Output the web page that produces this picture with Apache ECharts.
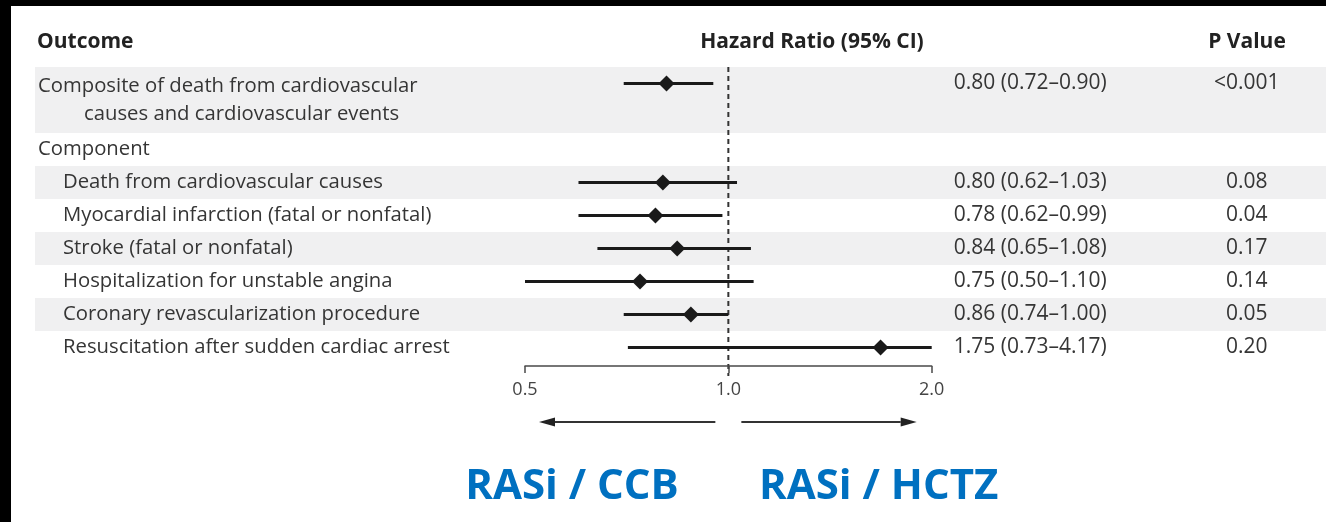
<!DOCTYPE html>
<html>
<head>
<meta charset="utf-8">
<script src="https://cdn.jsdelivr.net/npm/echarts@6/dist/echarts.min.js"></script>
<style>
html,body{margin:0;padding:0;background:#fff;}
#chart{width:1326px;height:522px;}
</style>
</head>
<body>
<div id="chart"></div>
<script>
// ---- data ----
const compositeLabel = ["Composite of death from cardiovascular", "causes and cardiovascular events"];
const groupLabel = "Component";
const componentLabels = [
  "Death from cardiovascular causes",
  "Myocardial infarction (fatal or nonfatal)",
  "Stroke (fatal or nonfatal)",
  "Hospitalization for unstable angina",
  "Coronary revascularization procedure",
  "Resuscitation after sudden cardiac arrest"
];
const hrCiText = ["0.80 (0.72\u20130.90)", "0.80 (0.62\u20131.03)", "0.78 (0.62\u20130.99)", "0.84 (0.65\u20131.08)", "0.75 (0.50\u20131.10)", "0.86 (0.74\u20131.00)", "1.75 (0.73\u20134.17)"];
const pValueText = ["<0.001", "0.08", "0.04", "0.17", "0.14", "0.05", "0.20"];
// plotted marks (hazard ratio, lower and upper CI as drawn)
const hr     = [0.81, 0.80, 0.78, 0.84, 0.74, 0.88, 1.68];
const ciLow  = [0.70, 0.60, 0.60, 0.64, 0.50, 0.70, 0.71];
const ciHigh = [0.95, 1.03, 0.98, 1.08, 1.09, 1.00, 4.17];
const axisTicks = [0.5, 1.0, 2.0];
const favorLabels = ["RASi / CCB", "RASi / HCTZ"];
const headers = ["Outcome", "Hazard Ratio (95% CI)", "P Value"];

// ---- build rows ----
const categories = [...compositeLabel, groupLabel, ...componentLabels];
const rowOfOutcome = [0, ...componentLabels.map((_, i) => i + 3)];
const xMin = axisTicks[0], xMax = axisTicks[axisTicks.length - 1];
const FONT = "'Open Sans', 'DejaVu Sans', sans-serif";
const TXT = '#353535';
const LFS = 20.3;
const RFS = 21;

const forestData = hr.map((v, j) => [v, rowOfOutcome[j], ciLow[j], ciHigh[j]]);
// shaded rows: composite (two lines) and every other component
const bandRows = [];
categories.forEach((c, k) => {
  if (k < 2) bandRows.push([1, k]);
  else if (k >= 3 && (k - 3) % 2 === 0) bandRows.push([1, k]);
});

const chart = echarts.init(document.getElementById('chart'), null, {renderer: 'canvas'});

const hdrStyle = (text, x, align) => ({type: 'text', z: 10, style: {text, x, y: 42, font: "bold 21px " + FONT, fill: '#222', textAlign: align, align: align, textVerticalAlign: 'middle', verticalAlign: 'middle'}});

const option = {
  animation: false,
  backgroundColor: '#fff',
  grid: {left: 525, right: 394.3, top: 67, bottom: 158, containLabel: false},
  xAxis: {
    type: 'log', logBase: 2, min: xMin, max: xMax, offset: 2, z: 10,
    axisLine: {show: true, lineStyle: {color: '#4a4a4a', width: 1.5}},
    axisTick: {show: true, length: 7, lineStyle: {color: '#4a4a4a', width: 1.5}},
    splitLine: {show: false},
    minorTick: {show: false},
    axisLabel: {margin: 15, color: '#444', fontSize: 18, fontFamily: FONT, formatter: v => Number(v).toFixed(1)}
  },
  yAxis: [{
    type: 'category', data: categories, inverse: true, z: 10,
    axisLine: {show: false}, axisTick: {show: false}, splitLine: {show: false},
    axisLabel: {
      interval: 0, align: 'left', margin: 487, color: TXT, fontSize: LFS, fontFamily: FONT,
      formatter: (v, k) => {
        const key = k === 0 ? 'f' : (k === 2 ? 'h' : (k === 1 ? 'c' : 'i'));
        return '{' + key + '|' + v + '}';
      },
      rich: {
        f: {color: TXT, fontSize: LFS, fontFamily: FONT, padding: [5, 0, 0, 0]},
        h: {color: TXT, fontSize: LFS, fontFamily: FONT, padding: [0, 0, 0, 0]},
        c: {color: TXT, fontSize: LFS, fontFamily: FONT, padding: [0, 0, 5, 46]},
        i: {color: TXT, fontSize: LFS, fontFamily: FONT, padding: [0, 0, 0, 25]}
      }
    }
  }, {
    type: 'category', data: categories, inverse: true, position: 'right', z: 10,
    axisLine: {show: false}, axisTick: {show: false}, splitLine: {show: false},
    axisLabel: {
      interval: 0, align: 'left', margin: 22, color: TXT, fontSize: RFS, fontFamily: FONT,
      formatter: (v, k) => {
        const j = rowOfOutcome.indexOf(k);
        if (j < 0) return '';
        return '{ci|' + hrCiText[j] + '}{p|' + pValueText[j] + '}';
      },
      rich: {
        ci: {width: 262, align: 'left', color: TXT, fontSize: RFS, fontFamily: FONT},
        p: {width: 62, align: 'center', color: TXT, fontSize: RFS, fontFamily: FONT}
      }
    }
  }],
  graphic: [
    hdrStyle(headers[0], 37, 'left'),
    hdrStyle(headers[1], 812, 'center'),
    hdrStyle(headers[2], 1247, 'center'),
    {type: 'rect', z: 100, shape: {x: 0, y: 0, width: 1326, height: 6}, style: {fill: '#000'}},
    {type: 'rect', z: 100, shape: {x: 0, y: 0, width: 11, height: 522}, style: {fill: '#000'}}
  ],
  series: [
    { // row shading
      type: 'custom', z: 1, clip: false, silent: true,
      data: bandRows, encode: {x: 0, y: 1},
      renderItem: (params, api) => {
        const c = api.coord([1, api.value(1)]);
        const h = api.size([1, 1])[1];
        return {type: 'rect', shape: {x: 35, y: c[1] - h / 2, width: api.getWidth() - 35, height: h}, style: {fill: '#f0f0f1'}};
      }
    },
    { // reference line at HR = 1
      type: 'custom', z: 2, clip: false, silent: true,
      data: [[1, 0]], encode: {x: 0, y: 1},
      renderItem: (params, api) => {
        const cs = params.coordSys;
        const x = api.coord([api.value(0), 0])[0];
        return {type: 'line', shape: {x1: x, y1: cs.y, x2: x, y2: cs.y + cs.height + 12}, style: {stroke: '#333', lineWidth: 2, lineDash: [5, 4]}};
      }
    },
    { // hazard ratios with confidence intervals
      type: 'custom', z: 3, clip: false, silent: true,
      data: forestData, encode: {x: [0, 2, 3], y: 1},
      renderItem: (params, api) => {
        const row = api.value(1);
        const p = api.coord([api.value(0), row]);
        const lo = api.coord([Math.max(api.value(2), xMin), row]);
        const hi = api.coord([Math.min(api.value(3), xMax), row]);
        const d = 8;
        return {type: 'group', children: [
          {type: 'line', shape: {x1: lo[0], y1: p[1], x2: hi[0], y2: p[1]}, style: {stroke: '#1a1a1a', lineWidth: 3}},
          {type: 'polygon', shape: {points: [[p[0], p[1] - d], [p[0] + d, p[1]], [p[0], p[1] + d], [p[0] - d, p[1]]]}, style: {fill: '#1a1a1a'}}
        ]};
      }
    },
    { // direction arrows and favour labels
      type: 'custom', z: 3, clip: false, silent: true,
      data: [[xMin, 0], [xMax, 0]], encode: {x: 0, y: 1},
      renderItem: (params, api) => {
        const cs = params.coordSys;
        const i = params.dataIndex;
        const side = i === 0 ? -1 : 1;
        const x1 = api.coord([1, 0])[0];
        const xe = api.coord([api.value(0), 0])[0];
        const axisY = cs.y + cs.height + 2;
        const ya = axisY + 56;
        const start = x1 + side * 13;
        const tip = xe - side * (i === 0 ? 14 : 15);
        const base = tip - side * 16;
        const lx = i === 0 ? xe + 47 : xe - 53;
        return {type: 'group', children: [
          {type: 'line', shape: {x1: start, y1: ya, x2: base, y2: ya}, style: {stroke: '#333', lineWidth: 2}},
          {type: 'polygon', shape: {points: [[tip, ya], [base, ya - 4.5], [base, ya + 4.5]]}, style: {fill: '#222'}},
          {type: 'text', style: {text: favorLabels[i], x: lx, y: axisY + 121, font: "bold 42px " + FONT, fill: '#0070C0', textAlign: 'center', align: 'center', textVerticalAlign: 'middle', verticalAlign: 'middle'}}
        ]};
      }
    }
  ]
};
chart.setOption(option);
</script>
</body>
</html>
